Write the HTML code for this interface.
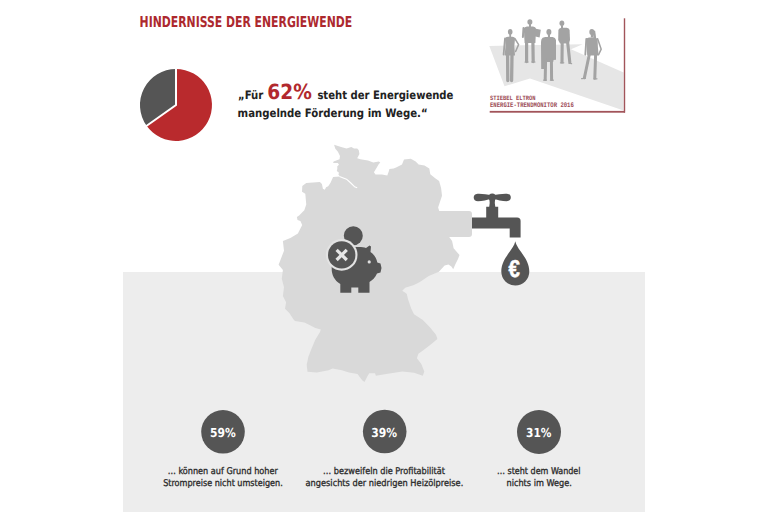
<!DOCTYPE html>
<html lang="de">
<head>
<meta charset="utf-8">
<title>Hindernisse der Energiewende</title>
<style>
html,body{margin:0;padding:0;background:#fff;}
body{width:768px;height:512px;overflow:hidden;position:relative;}
svg{display:block;position:absolute;left:0;top:0;text-rendering:geometricPrecision;}
text{font-family:"Liberation Sans",sans-serif;}
.dj,.dj text{font-family:"DejaVu Sans Condensed","DejaVu Sans","Liberation Sans",sans-serif;font-stretch:condensed;}
</style>
</head>
<body>
<svg width="768" height="512" viewBox="0 0 768 512">
  <defs><filter id="soft" x="-10%" y="-10%" width="120%" height="120%"><feGaussianBlur stdDeviation="0.3"/></filter></defs>
  <!-- grey panel -->
  <rect x="123" y="272" width="522" height="240" fill="#ededed"/>

  <!-- heading -->
  <text class="dj" x="139.6" y="26.8" font-size="14.95" font-weight="bold" fill="#ad292e" textLength="212.6" lengthAdjust="spacingAndGlyphs">HINDERNISSE DER ENERGIEWENDE</text>

  <!-- pie -->
  <g id="pie">
    <path d="M176,105 L176,69 A36,36 0 1 1 146.6,125.8 Z" fill="#b92a2d"/>
    <path d="M176,105 L146.6,125.8 A36,36 0 0 1 176,69 Z" fill="#555"/>
    <path d="M176,68 L176,105 L146,126.2" fill="none" stroke="#fff" stroke-width="2"/>
  </g>

  <!-- quote -->
  <text x="238" y="99.2" class="dj" font-size="11.5" font-weight="bold" fill="#222" textLength="25.3" lengthAdjust="spacingAndGlyphs">„Für</text>
  <text class="dj" x="267.3" y="98.9" font-size="20.8" font-weight="bold" fill="#b2292e" textLength="44.5" lengthAdjust="spacingAndGlyphs">62%</text>
  <text x="317.4" y="99.2" class="dj" font-size="11.5" font-weight="bold" fill="#222" textLength="136" lengthAdjust="spacingAndGlyphs">steht der Energiewende</text>
  <text x="237.6" y="117" class="dj" font-size="11.5" font-weight="bold" fill="#222" textLength="190" lengthAdjust="spacingAndGlyphs">mangelnde Förderung im Wege.“</text>

  <!-- logo -->
  <g id="logo">
    <polygon points="489.3,45.9 582.7,44.3 571,49.2 623.6,72.5 623.6,110.5 530,78.5 504.5,86.3" fill="#e6e6e6"/>
    <g fill="#a3a3a3" stroke="#a3a3a3" stroke-linecap="round" stroke-linejoin="round" filter="url(#soft)">
      <!-- figure 1 woman left -->
      <ellipse cx="510.2" cy="31.8" rx="2.3" ry="2.9" stroke="none"/>
      <path d="M509.3,34 L511.1,34 L511.1,37 L509.3,37 Z" stroke="none"/>
      <path d="M505,38.8 Q505.4,36.9 508,36.7 L512.4,36.7 Q514.8,36.9 515,38.8 L514.3,46.5 L515,55.6 L504.6,55.6 L505.5,46.5 Z" stroke="none"/>
      <path d="M505,38.5 L503.6,54.5" stroke-width="1.8" fill="none"/>
      <path d="M514.8,38.5 L518.6,44.6 L515.6,51.5" stroke-width="1.5" fill="none"/>
      <path d="M507.6,55 L507.8,80.5 M512,55 L511.6,80.5" stroke-width="3.3" fill="none"/>
      <!-- figure 2 man with papers -->
      <ellipse cx="529.9" cy="22" rx="2.5" ry="2.7" stroke="none"/>
      <path d="M529,24 L531,24 L531,27 L529,27 Z" stroke="none"/>
      <path d="M523.8,28.6 Q524.2,26.6 527,26.4 L533,26.4 Q535.6,26.6 536,28.6 L535.4,43 L524.6,43 Z" stroke="none"/>
      <path d="M523.5,28 L522.9,37" stroke-width="2" fill="none"/>
      <path d="M534.6,28.6 L540.8,29.8 L539.6,37.4 L534.4,36.2 Z" stroke="none"/>
      <path d="M526.6,42 L526.6,61.6 M532.9,42 L533.2,61.6" stroke-width="3.2" fill="none"/>
      <path d="M525,62 L528.2,62 M531.6,62 L535,62" stroke-width="1.2" fill="none"/>
      <!-- figure 3 coat -->
      <ellipse cx="548.9" cy="32" rx="2.5" ry="3" stroke="none"/>
      <path d="M547.9,34 L550,34 L550,37.5 L547.9,37.5 Z" stroke="none"/>
      <path d="M541.4,39.6 Q542,37.2 545.2,36.9 L552.6,36.9 Q555.5,37.2 556,40 L556,59.8 L553.6,60 L553.2,62 L546,62 L545.2,69.1 L541.2,69.1 L541,42 Z" stroke="none"/>
      <path d="M545.6,60 L545.2,79.6 M551.4,60 L551.6,79.6" stroke-width="3" fill="none"/>
      <path d="M543.6,80.2 L546.4,80.2 M550.4,80.2 L553.4,80.2" stroke-width="1.2" fill="none"/>
      <!-- figure 4 man right-center -->
      <ellipse cx="561.9" cy="23.3" rx="2.4" ry="2.7" stroke="none"/>
      <path d="M561,25.3 L563,25.3 L563,28.5 L561,28.5 Z" stroke="none"/>
      <path d="M558.4,30 Q558.9,28 561.5,27.8 L566.6,27.8 Q569.3,28 569.6,30 L570,40 L568.8,43.5 L560,43.5 L558.2,40 Z" stroke="none"/>
      <path d="M562.2,42 L562,62 M567.6,42 L569.8,62.2" stroke-width="3.1" fill="none"/>
      <path d="M560.4,62.8 L563.8,62.8 M568.8,63.2 L571.6,63.6" stroke-width="1.2" fill="none"/>
      <!-- figure 5 woman right -->
      <ellipse cx="591.8" cy="31.9" rx="2.5" ry="3" stroke="none"/>
      <path d="M592.5,29.5 L595.2,31 L596.2,38.5 L593.4,38 Z" stroke="none"/>
      <path d="M590.8,34 L593,34 L593,37.5 L590.8,37.5 Z" stroke="none"/>
      <path d="M585.9,39.6 Q586.4,37.6 589,37.4 L594.6,37.4 Q597.3,37.6 597.6,39.6 L597.9,47 L598.6,55.6 L587.2,55.6 L586.6,47 Z" stroke="none"/>
      <path d="M586.3,38.8 L585.3,54.6" stroke-width="1.8" fill="none"/>
      <path d="M597.6,38.8 L601.2,49.2 L598.6,54.6" stroke-width="1.5" fill="none"/>
      <path d="M589.2,55 L584.4,77.8 M595.6,55 L594.8,78.2" stroke-width="3" fill="none"/>
      <path d="M581.6,78.6 L585.4,78.4 M593.8,78.8 L597,78.8" stroke-width="1.2" fill="none"/>
    </g>
    <text x="490" y="99.9" font-size="6.6" font-weight="bold" fill="#9c4b56" style="font-family:'Liberation Mono',monospace" textLength="45.5" lengthAdjust="spacingAndGlyphs">STIEBEL ELTRON</text>
    <text x="490" y="106.5" font-size="7" font-weight="bold" fill="#9c4b56" style="font-family:'Liberation Mono',monospace" textLength="83.8" lengthAdjust="spacingAndGlyphs">ENERGIE-TRENDMONITOR 2016</text>
    <rect x="489.7" y="110.9" width="135.3" height="1.8" fill="#a2545a"/>
    <rect x="623.8" y="18.3" width="1.4" height="94.3" fill="#a2545a"/>
  </g>

  <!-- Germany map -->
  <g id="map" fill="#d9d9d9">
    <path d="M334.1,144.8 L341.1,147 L346.5,148.6 L349.7,147.5 L351.3,147 L354,148.6 L357.2,148.6 L358.8,150.2 L359.4,154 L357.2,158.3 L360.4,159.3 L368,160.4 L373.3,162.5 L378.7,161.5 L380.3,162.5 L378.7,164.2 L376.5,167.9 L373.9,172.2 L375.5,174.4 L381.9,174.4 L387.3,175.4 L388.9,171.1 L389.4,169 L393.7,168.5 L396.1,167.5 L402,164.5 L404,159.6 L410.8,158.7 L415.7,161.6 L418.6,164.5 L424.5,165.5 L429.3,168.4 L430.3,174.3 L435.2,178.2 L439.1,181.1 L441.1,188 L442,195.8 L440.1,201.6 L438.1,207.5 L439.1,210.4 L440,237 L449.2,237 L452.1,240.9 L453.6,248.2 L459.5,255 L458,259 L455.5,264 L453.2,269.2 L451.4,266.5 L448.5,264.6 L444.6,265.6 L438.9,271.7 L428.7,276 L419.9,281.9 L414,284.9 L405.2,287.8 L402.3,290.7 L406.7,293.7 L408.1,299.5 L411.1,308.3 L414,314.2 L422.8,320 L430.1,327.4 L436,334.7 L437.4,339.1 L430.1,345 L424.3,349.4 L418.4,353.8 L416.9,358.2 L421.3,364 L424.3,371.4 L422.8,375.8 L414,372.8 L402.3,371.4 L384.7,374.3 L375.9,375.8 L375,373.3 L369.2,373.3 L366.9,377.2 L364.5,381.9 L362.2,380.3 L357.5,374.1 L348.9,372.5 L341.9,370.2 L332.5,368.6 L328.6,370.2 L316.9,372.5 L307.5,371.7 L306.7,364.7 L308.3,356.9 L311.4,349.1 L315.3,339.7 L320,331.9 L320.8,329.5 L315.3,328 L310.6,325.6 L304.4,322.5 L295,320.9 L293.6,319.5 L289.3,313 L285,308.7 L286.1,302.3 L282.9,295.9 L284,287.3 L281.8,278.7 L282.9,270.1 L278.6,264.7 L284,250.8 L282.9,241.1 L290.4,237.9 L297.9,233.6 L302.2,225 L300.4,221 L297.5,220.1 L296.9,217.1 L299.4,215.2 L304.3,210.3 L306.25,204.5 L305.3,193.7 L302,191.8 L302.3,185.9 L306.25,183 L319.9,182 L321.9,184 L322.9,188.8 L324.8,189.8 L326.1,187.2 L328.2,186.2 L330.4,183 L333.1,177 L340,176.5 L338.4,174.4 L339,172.7 L336.8,171.1 L337.3,169 L337.3,166.3 L339,164.7 L337.9,163.1 L333.1,163.1 L333.6,161.5 L339.5,159.3 L340,156.1 L337.9,151.8 L335.2,148.6 Z"/>
    <!-- pipe -->
    <rect x="430" y="210.9" width="42" height="26" rx="3"/>
  </g>
  <!-- Elbe -->
  <path d="M339.5,176.4 L346.5,179.2 L350.8,183 L354.5,186.7 L357.2,187.8" stroke="#fff" stroke-width="1.1" fill="none" stroke-linejoin="round"/>

  <!-- faucet -->
  <g id="faucet" fill="#555">
    <path d="M492.2,195.4 C487,194.3 482,193.5 477.6,193.7 C474.6,193.9 473.7,195.8 473.7,197.5 C473.7,199.6 475.2,201.3 478,201.3 C482.2,201.3 487,199.8 492.2,198.8 Z"/>
    <path d="M492.3,195.4 C497.5,194.3 502.5,193.5 506.9,193.7 C509.9,193.9 510.8,195.8 510.8,197.5 C510.8,199.6 509.3,201.3 506.5,201.3 C502.3,201.3 497.5,199.8 492.3,198.8 Z"/>
    <circle cx="492.25" cy="197.3" r="3.7"/>
    <path d="M489.4,199 L495.1,199 L494.8,203 L495.3,207 L489.2,207 L489.7,203 Z"/>
    <path d="M486.2,206.8 L498.2,206.8 L498.2,217.6 L517.1,217.6 Q520.6,217.6 520.6,221.1 L520.6,237.4 L509.7,237.4 L509.7,228.6 L472,228.6 L472,217.6 L486.2,217.6 Z"/>
  </g>
  <!-- drop -->
  <path d="M515.3,241.3 C517,250 529.3,258 529.3,271.5 A14,14 0 0 1 501.3,271.5 C501.3,258 513.6,250 515.3,241.3 Z" fill="#555"/>
  <text x="508.4" y="276.9" font-size="24.5" font-weight="bold" fill="#fff" stroke="#fff" stroke-width="0.5" textLength="11.4" lengthAdjust="spacingAndGlyphs">€</text>

  <!-- piggy bank -->
  <g id="pig">
    <circle cx="353.3" cy="235.8" r="9.5" fill="#555"/>
    <path d="M338,254 C345,247 360,246 366,248 L369.5,245.5 L371,246.5 L370.5,252 C374,254.5 376.5,258 377.3,262.5 L380.5,263.5 L381.5,268 L380.5,272.5 L377,273.5 C375.5,277.5 372,280.5 369.5,282 L369.5,292.7 L358.3,292.7 L358.3,287.5 L351.3,287.5 L351.3,292.7 L340.3,292.7 L340.3,284 C334,280 331.5,274 331.7,268 C331.7,262 334,257 338,254 Z" fill="#555"/>
    <circle cx="341.7" cy="254.9" r="15.8" fill="#e3e3e3"/>
    <circle cx="341.7" cy="254.9" r="13.7" fill="#555"/>
    <path d="M336.6,249.8 L346.8,260 M346.8,249.8 L336.6,260" stroke="#e6e6e6" stroke-width="3.2"/>
    <circle cx="369.2" cy="261.9" r="1.6" fill="#e0e0e0"/>
  </g>

  <!-- circles -->
  <g fill="#555">
    <circle cx="223" cy="431.8" r="21.8"/>
    <circle cx="384.7" cy="431.5" r="21.8"/>
    <circle cx="539" cy="432" r="22"/>
  </g>
  <g class="dj" font-size="12.4" font-weight="bold" fill="#fff">
    <text x="210" y="437.1" textLength="25.7" lengthAdjust="spacingAndGlyphs">59%</text>
    <text x="371.2" y="437.1" textLength="25.8" lengthAdjust="spacingAndGlyphs">39%</text>
    <text x="526" y="437.3" textLength="25.4" lengthAdjust="spacingAndGlyphs">31%</text>
  </g>
  <g class="dj" font-size="9.3" fill="#2b2b2b" stroke="#2b2b2b" stroke-width="0.3">
    <text x="167.7" y="473.9" textLength="110.1" lengthAdjust="spacingAndGlyphs">… können auf Grund hoher</text>
    <text x="163.2" y="486.4" textLength="119.6" lengthAdjust="spacingAndGlyphs">Strompreise nicht umsteigen.</text>
    <text x="323.1" y="473.9" textLength="121.9" lengthAdjust="spacingAndGlyphs">… bezweifeln die Profitabilität</text>
    <text x="305.5" y="486.4" textLength="157.8" lengthAdjust="spacingAndGlyphs">angesichts der niedrigen Heizölpreise.</text>
    <text x="497" y="473.9" textLength="83.5" lengthAdjust="spacingAndGlyphs">… steht dem Wandel</text>
    <text x="506.5" y="486.4" textLength="65.3" lengthAdjust="spacingAndGlyphs">nichts im Wege.</text>
  </g>
</svg>
</body>
</html>
